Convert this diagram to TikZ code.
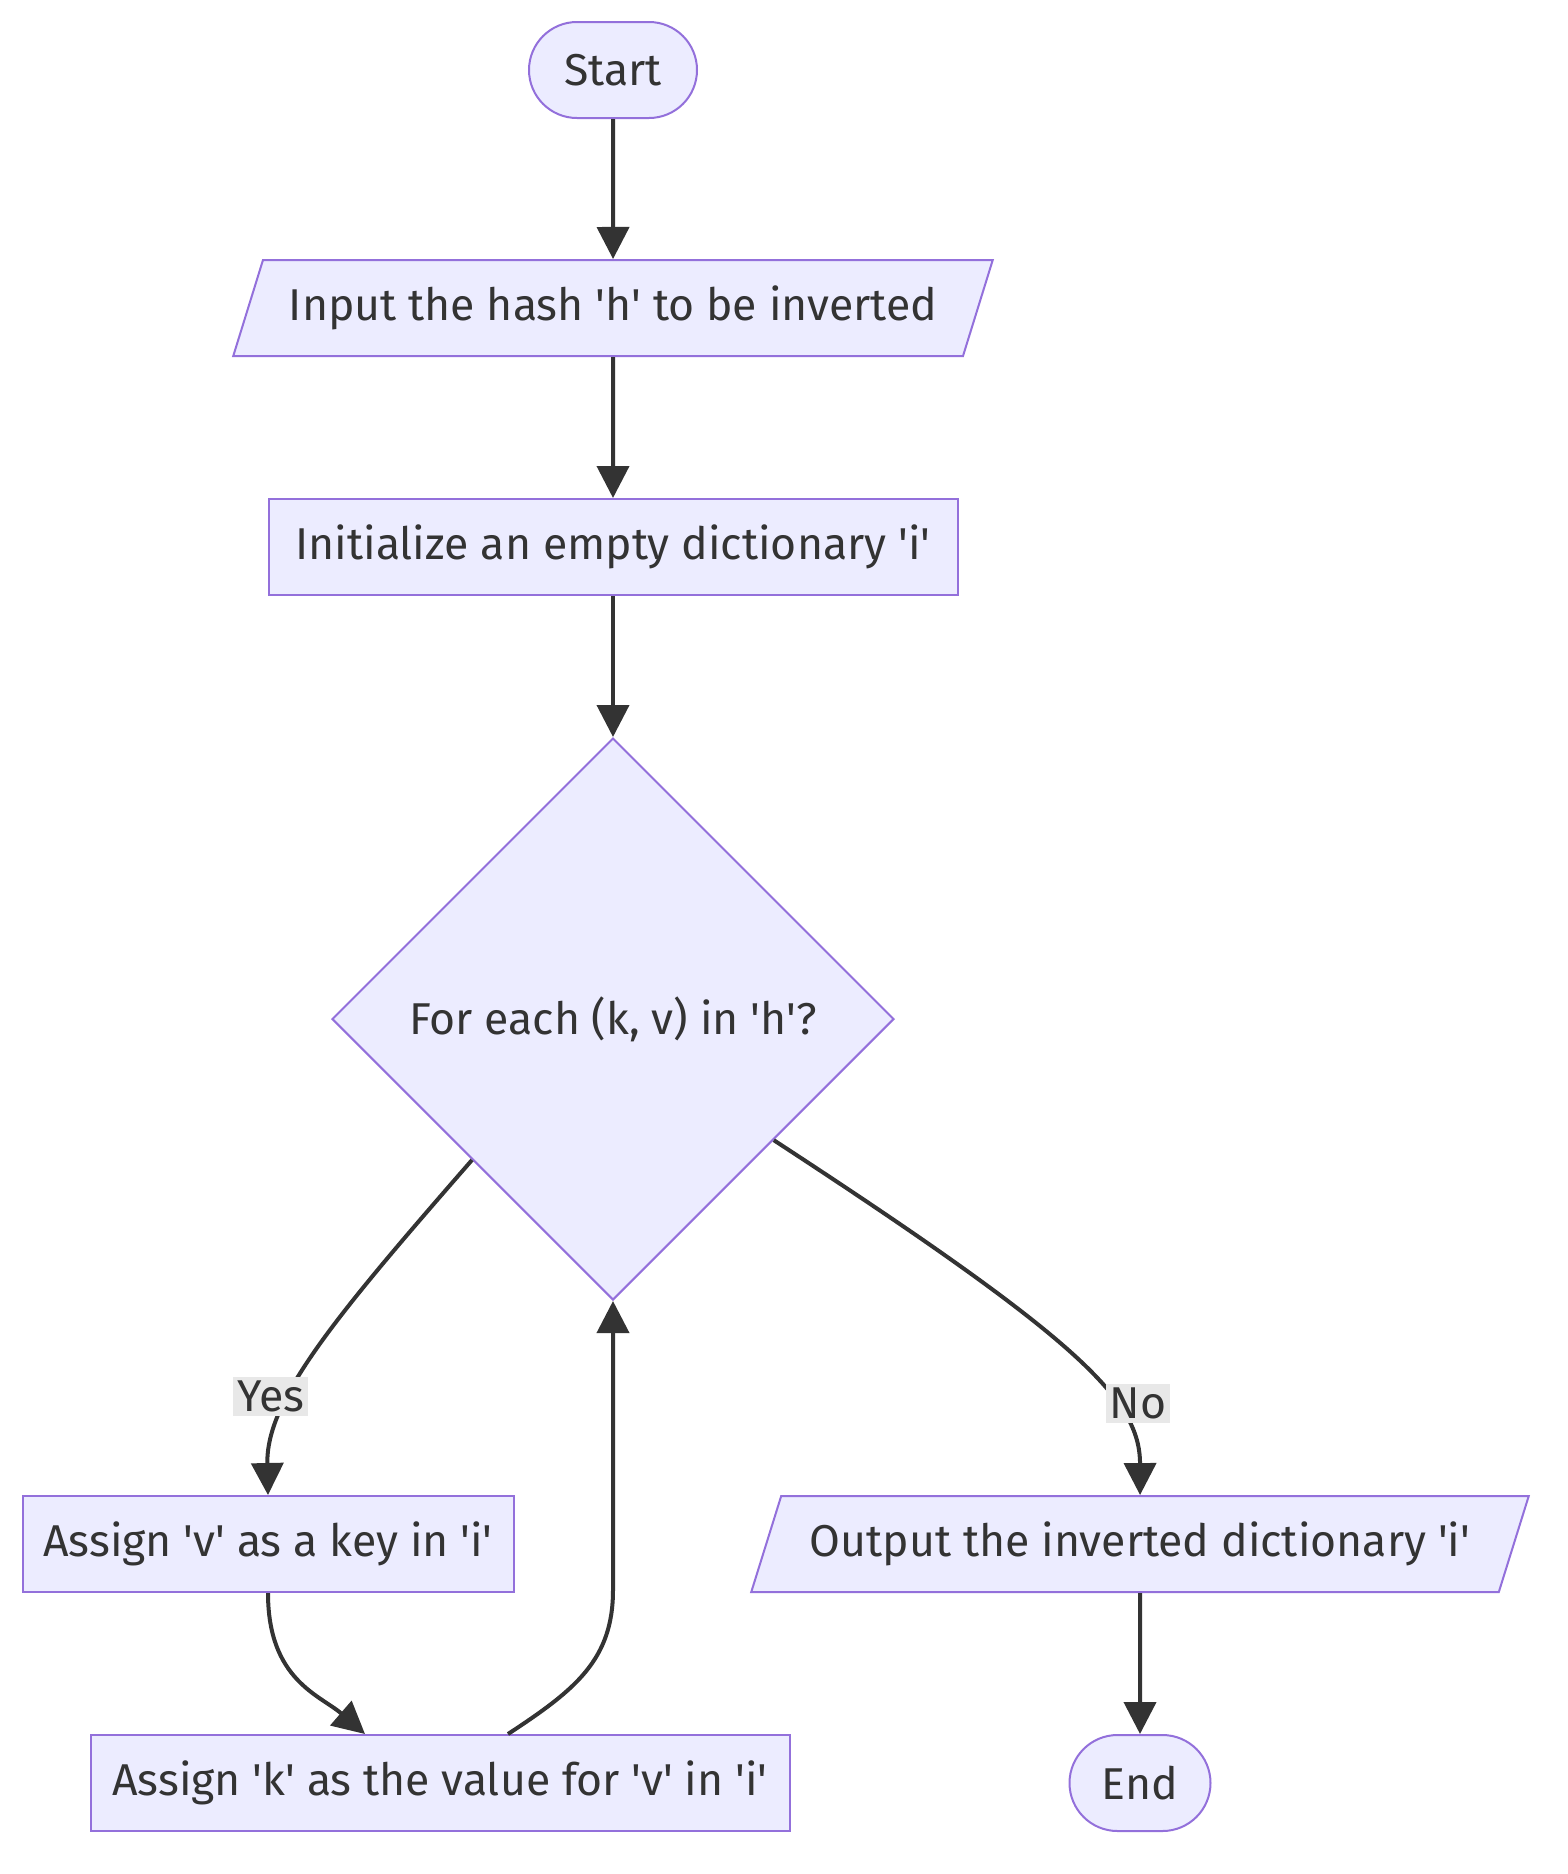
\documentclass[tikz,border=0pt]{standalone}
\usepackage{fontspec}
\setmainfont{Fira Sans}
\usepackage{xcolor}
\usetikzlibrary{shapes.geometric}
\usetikzlibrary{arrows.meta}

\definecolor{nodefill}{HTML}{ECECFF}
\definecolor{nodeline}{HTML}{9370DB}
\definecolor{edgeink}{HTML}{333333}
\definecolor{labelfill}{HTML}{E8E8E8}
\newcommand{\qt}[1]{\textquotesingle#1\textquotesingle}

\begin{document}
\begin{tikzpicture}[
    x=0.5pt, y=-0.5pt,
    every node/.style={draw=nodeline, fill=nodefill, line width=1pt, text=edgeink, font=\fontsize{22.3}{27}\selectfont},
    terminal/.style={rectangle, rounded corners=24pt, minimum height=48pt, minimum width=#1},
    process/.style={rectangle, minimum height=48pt, minimum width=#1},
    inout/.style={trapezium, trapezium left angle=64, trapezium right angle=116, trapezium stretches=true, minimum height=48pt, minimum width=#1},
    choice/.style={diamond, minimum width=281pt, minimum height=281pt, inner sep=0pt},
    edge label/.style={rectangle, draw=none, fill=labelfill, inner sep=2pt},
    flow/.style={->, line width=2pt, draw=edgeink},
  ]
\tikzset{>={Triangle[length=16pt, width=16pt]}}
  \useasboundingbox (0,0) rectangle (1568,1874);

  \node[terminal=84pt]    (start)  at (613,70)    {Start};
  \node[inout=381pt]      (input)  at (613,308)   {Input the hash \qt{h} to be inverted};
  \node[process=344.5pt]  (init)   at (613,547)   {Initialize an empty dictionary \qt{i}};
  \node[choice]           (each)   at (613,1019)  {For each (k, v) in \qt{h}?};
  \node[process=245.5pt]  (setkey) at (268,1544)  {Assign \qt{v} as a key in \qt{i}};
  \node[process=349.5pt]  (setval) at (440,1783)  {Assign \qt{k} as the value for \qt{v} in \qt{i}};
  \node[inout=390pt]      (output) at (1140,1544) {Output the inverted dictionary \qt{i}};
  \node[terminal=70.5pt]  (end)    at (1140,1783) {End};
  \coordinate (loopturn) at (613,1590);

  \draw[flow] (start.south) -- (input.north);
  \draw[flow] (input.south) -- (init.north);
  \draw[flow] (init.south) -- (each.north);
  \draw[flow] (each.south west) .. controls (334,1318) and (266,1400) .. node[edge label, pos=0.65, xshift=-10.5pt] {Yes} (setkey.north);
  \draw[flow] (setkey.south) .. controls (268,1680) and (320,1695) .. ([xshift=-37.5pt]setval.north);
  \draw[flow] ([xshift=34pt]setval.north) .. controls (575,1690) and (613,1660) .. (loopturn) -- (each.south);
  \draw[flow] (each.-37) .. controls (1080,1340) and (1140,1400) .. node[edge label, pos=0.66, xshift=13pt] {No} (output.north);
  \draw[flow] (output.south) -- (end.north);

  \end{tikzpicture}
\end{document}
